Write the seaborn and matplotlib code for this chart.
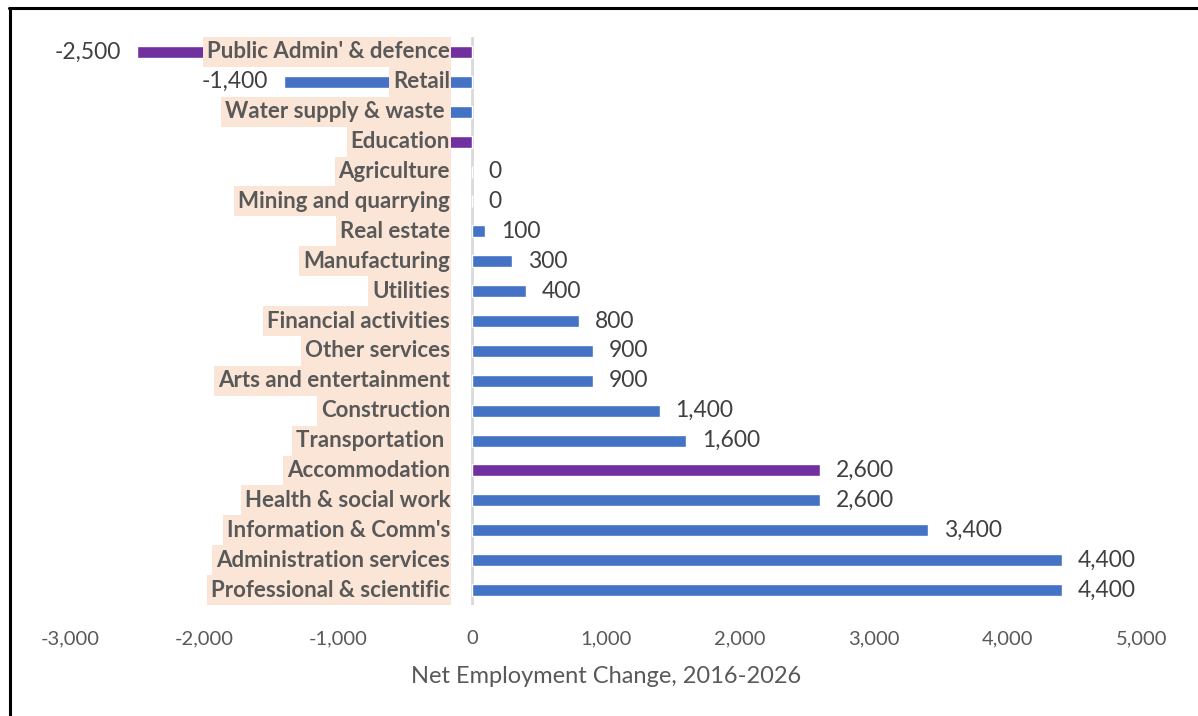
import matplotlib
matplotlib.use("Agg")
import matplotlib.pyplot as plt
from matplotlib.patches import Rectangle
from matplotlib.lines import Line2D
import seaborn as sns
import pandas as pd

# Sectors, top to bottom
sectors = [
    "Public Admin' & defence", "Retail", "Water supply & waste ", "Education",
    "Agriculture", "Mining and quarrying", "Real estate", "Manufacturing",
    "Utilities", "Financial activities", "Other services", "Arts and entertainment",
    "Construction", "Transportation ", "Accommodation", "Health & social work",
    "Information & Comm's", "Administration services", "Professional & scientific",
]
net_change = [-2500, -1400, -400, -300, 0, 0, 100, 300, 400, 800, 900, 900,
              1400, 1600, 2600, 2600, 3400, 4400, 4400]
highlighted = ["Public Admin' & defence", "Education", "Accommodation"]
x_ticks = [-3000, -2000, -1000, 0, 1000, 2000, 3000, 4000, 5000]
x_title = "Net Employment Change, 2016-2026"

BLUE = "#4472C4"
PURPLE = "#7030A0"
PEACH = "#FBE5D6"
GREY_TXT = "#595959"

sns.set_theme(style="white")
plt.rcParams["font.family"] = ["Lato", "DejaVu Sans"]

df = pd.DataFrame({"sector": sectors, "change": net_change})
palette = {s: (PURPLE if s in highlighted else BLUE) for s in sectors}

W, H = 1198, 716
fig = plt.figure(figsize=(W / 100, H / 100), dpi=100)
ax = fig.add_axes([70 / W, 1 - 605 / H, 1072 / W, 568 / H])

sns.barplot(data=df, x="change", y="sector", hue="sector", palette=palette,
            orient="h", width=0.4, legend=False, ax=ax, zorder=2,
            saturation=1)

ax.set_xlim(x_ticks[0], x_ticks[-1])
ax.set_ylim(len(sectors) - 0.5, -0.5)
ax.set_xticks(x_ticks)
ax.set_xticklabels([f"{t:,}" for t in x_ticks])
ax.tick_params(axis="x", length=0, pad=18, labelsize=14.5, labelcolor=GREY_TXT)
ax.set_yticks([])
ax.set_ylabel("")
ax.set_xlabel(x_title, fontsize=17, color=GREY_TXT, labelpad=14)
for sp in ax.spines.values():
    sp.set_visible(False)
ax.axvline(0, color="#D9D9D9", lw=2, zorder=1.5)

# value labels at bar ends
values_txt = []
for i, v in enumerate(net_change):
    off = 11.5 if v >= 0 else -11.5
    a = ax.annotate(f"{v:,}", xy=(v, i), xytext=(off, 0), textcoords="offset points",
                    ha="left" if v >= 0 else "right", va="center",
                    fontsize=16.5, color="#404040", zorder=3)
    values_txt.append(a)

# sector names on shaded boxes, right-aligned next to the zero line
zero_px = ax.transData.transform((0, 0))[0]
inv = ax.transData.inverted()
x_text = inv.transform((zero_px - 22, 0))[0]
box_right = inv.transform((zero_px - 21, 0))[0]
texts = []
for i, s in enumerate(sectors):
    t = ax.text(x_text, i, s, ha="right", va="center", fontsize=16,
                fontweight="bold", color=GREY_TXT, zorder=5)
    texts.append(t)

fig.canvas.draw()
renderer = fig.canvas.get_renderer()
for i, t in enumerate(texts):
    bb = t.get_window_extent(renderer)
    left = inv.transform((bb.x0 - 4, 0))[0]
    ax.add_patch(Rectangle((left, i - 0.5), box_right - left, 1.0,
                           facecolor=PEACH, edgecolor="none", zorder=4))
    # a value label that falls under its shaded name box stays hidden
    vb = values_txt[i].get_window_extent(renderer)
    if vb.x1 > bb.x0 - 4 and vb.x0 < bb.x1:
        values_txt[i].remove()

# outer frame
fig.add_artist(Line2D([9 / W, 1], [1 - 7.5 / H, 1 - 7.5 / H], color="black", lw=2.2))
fig.add_artist(Line2D([9.5 / W, 9.5 / W], [0, 1 - 7.5 / H], color="black", lw=2.2))

fig.savefig("out.png", dpi=100)
